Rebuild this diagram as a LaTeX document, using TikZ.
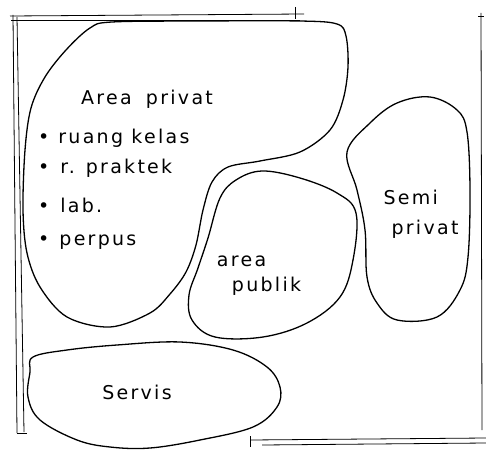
\documentclass[tikz,border=0pt]{standalone}
\usepackage{fontspec}
\newfontfamily\sketchfont{DejaVu Sans}[LetterSpace=12]
\usepackage{tikz}

\tikzset{
  bubble/.style={line width=1.3pt, line join=round},
  frameline/.style={line width=0.8pt},
  lbl/.style={font=\sketchfont\fontsize{19}{21}\selectfont, inner sep=0pt},
}

\begin{document}
\begin{tikzpicture}[x=1pt, y=-1pt]
    \useasboundingbox (0, 0) rectangle (486, 449);
    %\draw[help lines, step=50] (0, 0) grid (486, 449);

    % frame
    \draw[frameline] (10, 16) -- (304, 14);
    \draw[frameline] (11, 20) -- (300, 20);
    \draw[frameline] (295, 7) -- (295, 19);
    \draw[frameline] (13, 15) -- (17, 433);
    \draw[frameline] (17, 17) -- (24, 432);
    \draw[frameline] (17, 433) -- (27, 433);
    \draw[frameline] (481, 13) -- (482, 430);
    \draw[frameline] (478, 16) -- (484, 16);
    \draw[frameline] (250, 440) -- (486, 438);
    \draw[frameline] (262, 445) -- (486, 443);
    \draw[frameline] (250, 436) -- (250, 447);

    % bubbles
    \draw[bubble] plot[smooth cycle, tension=0.55] coordinates {
      (90, 28) (112, 22) (200, 21) (300, 21) (337, 24) (346, 36) (348, 67)
      (343, 100) (330, 130) (300, 152) (260, 161) (228, 167) (212, 182)
      (203, 210) (196, 245) (186, 272) (170, 294) (150, 313) (110, 327)
      (67, 317) (40, 287) (27, 253) (23, 210) (25, 150) (31, 108) (45, 77)
      (66, 50)};
    \draw[bubble] plot[smooth cycle, tension=0.6] coordinates {
      (262, 171) (300, 178) (337, 193) (356, 213) (353, 260) (340, 297)
      (307, 323) (263, 337) (215, 337) (192, 320) (189, 295) (198, 268)
      (208, 238) (220, 198) (236, 180)};
    \draw[bubble] plot[smooth cycle, tension=0.6] coordinates {
      (347, 152) (370, 123) (397, 103) (430, 97) (457, 110) (467, 132)
      (470, 190) (468, 257) (460, 290) (437, 317) (397, 320) (377, 303)
      (367, 277) (365, 230) (357, 190)};
    \draw[bubble] plot[smooth cycle, tension=0.6] coordinates {
      (33, 357) (67, 350) (117, 345) (180, 342) (233, 350) (267, 367)
      (280, 387) (277, 407) (253, 427) (200, 440) (150, 448) (110, 447)
      (77, 440) (40, 420) (28, 397) (30, 372)};

    % labels
    \node[lbl] (privat) at (147, 99) {Area\hspace{6pt} privat};
    \node[lbl, anchor=west] (kelas) at (38, 138) {\textbullet\hspace{9pt}ruang kelas};
    \node[lbl, anchor=west] (praktek) at (38, 168) {\textbullet\hspace{11pt}r. praktek};
    \node[lbl, anchor=west] (lab) at (38, 205) {\textbullet\hspace{11pt}lab.};
    \node[lbl, anchor=west] (perpus) at (38, 242) {\textbullet\hspace{10pt}perpus};
    \node[lbl, align=left] (publik) at (259, 276) {area\\[4pt]\hspace{15pt}publik};
    \node[lbl, align=left] (semi) at (421, 214) {Semi\\[9pt]\hspace{8pt}privat};
    \node[lbl] (servis) at (137, 392) {Servis};
\end{tikzpicture}
\end{document}
